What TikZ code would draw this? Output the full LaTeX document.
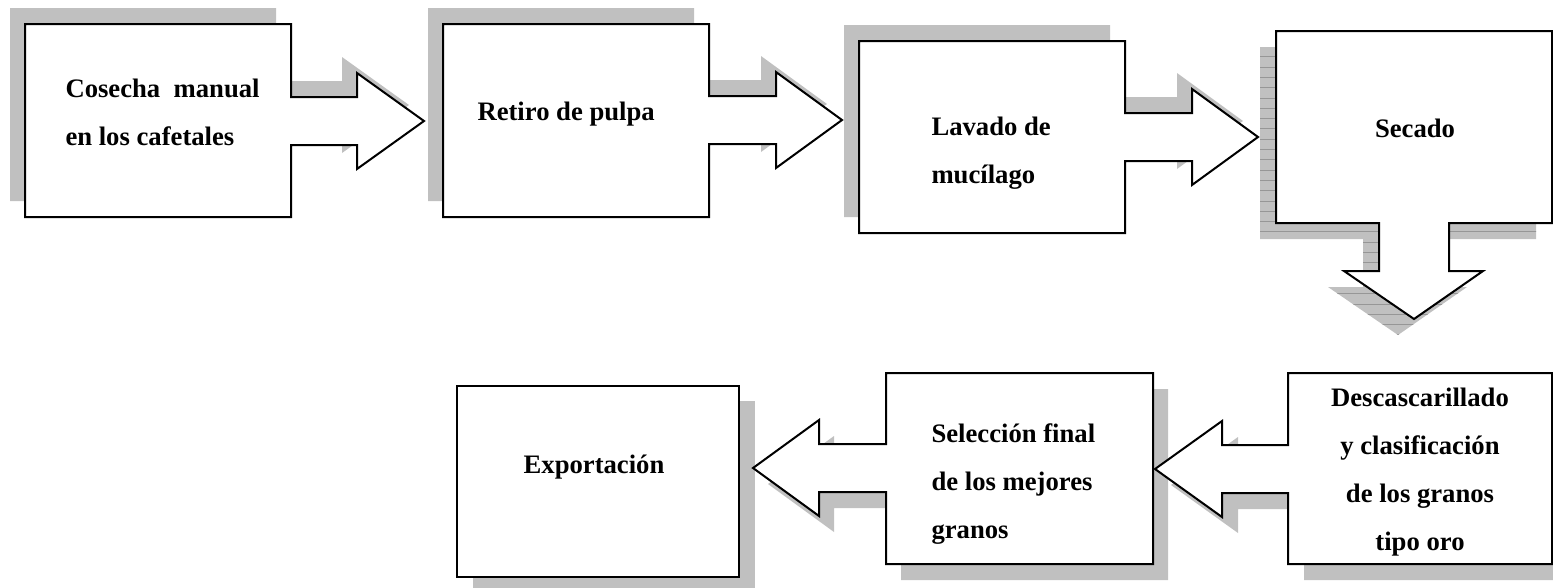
\documentclass[tikz,border=0pt]{standalone}
\usepackage{fontspec}
\setmainfont{Liberation Serif}

\definecolor{shadowgray}{RGB}{192,192,192}
\definecolor{hatchgray}{RGB}{150,150,150}

\tikzset{every picture/.style={line width=0.75pt}}
\tikzset{
  callout/.style={draw=black, fill=white, line width=1.5pt, line join=miter},
  shadowfill/.style={fill=shadowgray, draw=none},
  lbl/.style={inner sep=0pt, font=\bfseries\fontsize{20}{36}\selectfont},
}

\begin{document}
\begin{tikzpicture}[x=0.75pt,y=0.75pt,yscale=-1,xscale=1]
		\useasboundingbox (0,0) rectangle (1553,587);
		
		%Cosecha
		\fill [shadowfill, shift={(-15,-16)}] (25,24) -- (291,24) -- (291,97) -- (357,97) -- (357,73) -- (424,121) -- (357,169) -- (357,145) -- (291,145) -- (291,217) -- (25,217) -- cycle ;
		\draw [callout] (25,24) -- (291,24) -- (291,97) -- (357,97) -- (357,73) -- (424,121) -- (357,169) -- (357,145) -- (291,145) -- (291,217) -- (25,217) -- cycle ;
		%Retiro
		\fill [shadowfill, shift={(-15,-16)}] (443,24) -- (709,24) -- (709,96) -- (776,96) -- (776,72) -- (842,120) -- (776,168) -- (776,144) -- (709,144) -- (709,217) -- (443,217) -- cycle ;
		\draw [callout] (443,24) -- (709,24) -- (709,96) -- (776,96) -- (776,72) -- (842,120) -- (776,168) -- (776,144) -- (709,144) -- (709,217) -- (443,217) -- cycle ;
		%Lavado
		\fill [shadowfill, shift={(-15,-16)}] (859,41) -- (1125,41) -- (1125,113) -- (1192,113) -- (1192,89) -- (1258,137) -- (1192,185) -- (1192,161) -- (1125,161) -- (1125,233) -- (859,233) -- cycle ;
		\draw [callout] (859,41) -- (1125,41) -- (1125,113) -- (1192,113) -- (1192,89) -- (1258,137) -- (1192,185) -- (1192,161) -- (1125,161) -- (1125,233) -- (859,233) -- cycle ;
		%Secado, shadow with lines
		\fill [shadowfill, shift={(-16,16)}] (1276,31) -- (1552,31) -- (1552,223) -- (1449,223) -- (1449,271) -- (1483,271) -- (1414,319) -- (1344,271) -- (1379,271) -- (1379,223) -- (1276,223) -- cycle ;
		\begin{scope}
			\clip [shift={(-16,16)}] (1276,31) -- (1552,31) -- (1552,223) -- (1449,223) -- (1449,271) -- (1483,271) -- (1414,319) -- (1344,271) -- (1379,271) -- (1379,223) -- (1276,223) -- cycle ;
			\foreach \k in {0,...,27}
				\draw [hatchgray, line width=0.5pt] (1250,56.7+10.3*\k) -- (1545,56.7+10.3*\k) ;
		\end{scope}
		\draw [callout] (1276,31) -- (1552,31) -- (1552,223) -- (1449,223) -- (1449,271) -- (1483,271) -- (1414,319) -- (1344,271) -- (1379,271) -- (1379,223) -- (1276,223) -- cycle ;
		
		%Exportacion
		\fill [shadowfill, shift={(16,15)}] (457,386) rectangle (739,577) ;
		\draw [callout] (457,386) rectangle (739,577) ;
		%Seleccion
		\fill [shadowfill, shift={(15,16)}] (886,373) -- (1153,373) -- (1153,564) -- (886,564) -- (886,492) -- (819,492) -- (819,516) -- (753,468) -- (819,420) -- (819,444) -- (886,444) -- cycle ;
		\draw [callout] (886,373) -- (1153,373) -- (1153,564) -- (886,564) -- (886,492) -- (819,492) -- (819,516) -- (753,468) -- (819,420) -- (819,444) -- (886,444) -- cycle ;
		%Descascarillado
		\fill [shadowfill, shift={(16,16)}] (1288,373) -- (1552,373) -- (1552,564) -- (1288,564) -- (1288,493) -- (1222,493) -- (1222,517) -- (1155,469) -- (1222,421) -- (1222,445) -- (1288,445) -- cycle ;
		\draw [callout] (1288,373) -- (1552,373) -- (1552,564) -- (1288,564) -- (1288,493) -- (1222,493) -- (1222,517) -- (1155,469) -- (1222,421) -- (1222,445) -- (1288,445) -- cycle ;
		
		%base of a multi-line node is its last line
		\node (cosecha) [lbl, anchor=base west, align=left] at (65,145) {Cosecha~ manual\\en los cafetales};
		\node (retiro) [lbl, anchor=base west] at (477,120) {Retiro de pulpa};
		\node (lavado) [lbl, anchor=base west, align=left] at (931,183) {Lavado de\\mucílago};
		\node (secado) [lbl, anchor=base] at (1415,137) {Secado};
		\node (exportacion) [lbl, anchor=base] at (594,473) {Exportación};
		\node (seleccion) [lbl, anchor=base west, align=left] at (931,538) {Selección final\\de los mejores\\granos};
		\node (descascarillado) [lbl, anchor=base, align=center] at (1420,550) {Descascarillado\\y clasificación\\de los granos\\tipo oro};
		
\end{tikzpicture}
\end{document}
